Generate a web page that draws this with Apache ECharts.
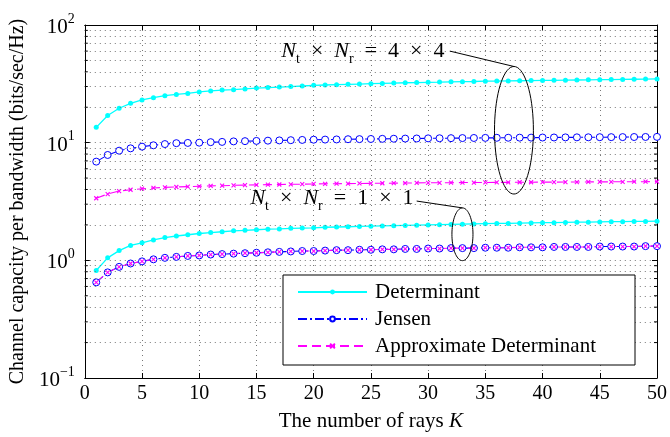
<!DOCTYPE html>
<html>
<head>
<meta charset="utf-8">
<script src="https://cdn.jsdelivr.net/npm/echarts@6/dist/echarts.min.js"></script>
<style>
html,body{margin:0;padding:0;background:#fff;}
#chart{width:670px;height:437px;}
</style>
</head>
<body>
<div id="chart"></div>
<script>
// ---- data ----
const rays = [1,2,3,4,5,6,7,8,9,10,11,12,13,14,15,16,17,18,19,20,21,22,23,24,25,26,27,28,29,30,31,32,33,34,35,36,37,38,39,40,41,42,43,44,45,46,47,48,49,50];
const det4 = [13.5,17.0,19.6,21.6,23.1,24.1,25.1,25.7,26.2,27.0,27.5,28.0,28.2,28.6,29.1,29.4,29.7,30.0,30.3,30.7,30.9,31.1,31.3,31.5,31.7,31.9,32.1,32.3,32.4,32.6,32.7,32.9,33.0,33.1,33.3,33.4,33.5,33.6,33.7,33.8,33.9,34.0,34.1,34.2,34.3,34.4,34.5,34.6,34.7,34.8];
const jen4 = [6.9,7.86,8.55,8.95,9.25,9.5,9.73,9.9,9.95,10.0,10.1,10.15,10.25,10.3,10.35,10.4,10.45,10.5,10.55,10.6,10.62,10.65,10.7,10.72,10.75,10.78,10.8,10.83,10.85,10.88,10.9,10.92,10.94,10.96,10.98,11.0,11.01,11.03,11.04,11.06,11.07,11.09,11.1,11.11,11.13,11.14,11.15,11.17,11.18,11.2];
const apx4 = [3.37,3.66,3.88,3.98,4.06,4.12,4.17,4.2,4.23,4.26,4.29,4.31,4.34,4.36,4.38,4.4,4.41,4.43,4.44,4.46,4.47,4.48,4.49,4.5,4.51,4.52,4.53,4.54,4.55,4.56,4.56,4.57,4.58,4.58,4.59,4.6,4.6,4.61,4.61,4.62,4.62,4.63,4.63,4.64,4.64,4.65,4.65,4.66,4.66,4.67];
const det1 = [0.82,1.05,1.21,1.34,1.41,1.49,1.56,1.61,1.65,1.69,1.72,1.75,1.78,1.8,1.82,1.84,1.85,1.87,1.88,1.89,1.91,1.92,1.93,1.94,1.95,1.96,1.97,1.98,1.99,2.0,2.01,2.02,2.03,2.04,2.05,2.06,2.06,2.07,2.08,2.09,2.09,2.1,2.11,2.11,2.12,2.13,2.13,2.14,2.14,2.15];
const jen1 = [0.65,0.79,0.88,0.94,0.98,1.02,1.05,1.07,1.09,1.1,1.12,1.13,1.14,1.15,1.16,1.17,1.18,1.19,1.2,1.2,1.21,1.22,1.22,1.23,1.23,1.24,1.24,1.25,1.25,1.26,1.26,1.27,1.27,1.27,1.28,1.28,1.28,1.29,1.29,1.29,1.3,1.3,1.3,1.3,1.31,1.31,1.31,1.31,1.32,1.32];
const apx1 = [0.65,0.79,0.88,0.94,0.98,1.02,1.05,1.07,1.09,1.1,1.12,1.13,1.14,1.15,1.16,1.17,1.18,1.19,1.2,1.2,1.21,1.22,1.22,1.23,1.23,1.24,1.24,1.25,1.25,1.26,1.26,1.27,1.27,1.27,1.28,1.28,1.28,1.29,1.29,1.29,1.3,1.3,1.3,1.3,1.31,1.31,1.31,1.31,1.32,1.32];
const seriesNames = ['Determinant', 'Jensen', 'Approximate Determinant'];
const minorGridValues = [0.2,0.3,0.4,0.5,0.6,0.7,0.8,0.9,2,3,4,5,6,7,8,9,20,30,40,50,60,70,80,90];
const xTitle = 'The number of rays ';
const yTitle = 'Channel capacity per bandwidth (bits/sec/Hz)';
const annotations = [
  {ratio: '4', k: 37.5, top: 44.4, bottom: 3.66, halfK: 1.7, textK: 24.3, textV: 58, lineK: 31.9, lineV: 60},
  {ratio: '1', k: 33.0, top: 2.79, bottom: 0.994, halfK: 0.92, textK: 21.6, textV: 3.22, lineK: 29.0, lineV: 3.19}
];

const FONT = '"Liberation Serif", "DejaVu Serif", serif';
const dotted = {color: '#777', width: 1, type: [1, 4]};

function pair(arr) { return rays.map((k, i) => [k, arr[i]]); }

const chart = echarts.init(document.getElementById('chart'), null, {renderer: 'canvas'});

function lineSeries(name, data, kind) {
  const base = {name: name, type: 'line', data: pair(data), xAxisIndex: 0, yAxisIndex: 0, silent: true, z: 3, showAllSymbol: true};
  if (kind === 0) {
    return Object.assign(base, {
      symbol: 'circle', symbolSize: 5,
      itemStyle: {color: '#00FFFF', borderColor: '#00FFFF', borderWidth: 0},
      lineStyle: {color: '#00FFFF', width: 1.3, type: 'solid'}
    });
  } else if (kind === 1) {
    return Object.assign(base, {
      symbol: 'circle', symbolSize: 7,
      itemStyle: {color: '#fff', borderColor: '#0000FF', borderWidth: 1},
      lineStyle: {color: '#0000FF', width: 1.1, type: [9, 3, 2, 3]}
    });
  } else {
    return Object.assign(base, {
      symbol: 'path://M0,0L10,10M10,0L0,10', symbolSize: 4,
      itemStyle: {color: 'none', borderColor: '#FF00FF', borderWidth: 1.1},
      lineStyle: {color: '#FF00FF', width: 1.1, type: [9, 5]}
    });
  }
}

const option = {
  animation: false,
  backgroundColor: '#fff',
  grid: {left: 81, right: 10, top: 25, bottom: 56, show: false},
  legend: {
    data: seriesNames,
    orient: 'vertical',
    left: 283, top: 275,
    padding: [6, 39, 8, 14],
    itemGap: 5,
    itemWidth: 69, itemHeight: 6,
    borderColor: '#000', borderWidth: 1,
    backgroundColor: '#fff',
    textStyle: {fontFamily: FONT, fontSize: 21, color: '#000', padding: [0, 0, 0, 3], lineHeight: 22},
    selectedMode: false,
    z: 10
  },
  xAxis: [{
    type: 'value', min: 0, max: 50, interval: 5,
    position: 'bottom',
    name: xTitle + '{k|K}',
    nameLocation: 'middle', nameGap: 33,
    nameTextStyle: {fontFamily: FONT, fontSize: 21, color: '#000', rich: {k: {fontFamily: FONT, fontSize: 21, fontStyle: 'italic', color: '#000'}}},
    axisLine: {show: true, onZero: false, lineStyle: {color: '#000', width: 1}},
    axisTick: {show: true, inside: true, length: 5, lineStyle: {color: '#000'}},
    axisLabel: {fontFamily: FONT, fontSize: 20, color: '#000', margin: 6},
    splitLine: {show: true, lineStyle: dotted}
  }, {
    type: 'value', min: 0, max: 50, interval: 5,
    position: 'top',
    axisLine: {show: true, onZero: false, lineStyle: {color: '#000', width: 1}},
    axisTick: {show: true, inside: true, length: 5, lineStyle: {color: '#000'}},
    axisLabel: {show: false},
    splitLine: {show: false}
  }],
  yAxis: [{
    type: 'log', logBase: 10, min: 0.1, max: 100,
    position: 'left',
    name: yTitle,
    nameLocation: 'middle', nameGap: 56, nameRotate: 90,
    nameTextStyle: {fontFamily: FONT, fontSize: 20, color: '#000'},
    axisLine: {show: true, onZero: false, lineStyle: {color: '#000', width: 1}},
    axisTick: {show: true, inside: true, length: 5, lineStyle: {color: '#000'}},
    axisLabel: {
      margin: 10,
      formatter: function (v) {
        const e = Math.round(Math.log10(v));
        return '{b|10}{s|' + (e < 0 ? '\u2212' + (-e) : e) + '}';
      },
      rich: {
        b: {fontFamily: FONT, fontSize: 21, color: '#000', lineHeight: 26, verticalAlign: 'bottom'},
        s: {fontFamily: FONT, fontSize: 14, color: '#000', lineHeight: 14, verticalAlign: 'top'}
      }
    },
    splitLine: {show: true, lineStyle: dotted}
  }, {
    type: 'log', logBase: 10, min: 0.1, max: 100,
    position: 'right',
    axisLine: {show: true, onZero: false, lineStyle: {color: '#000', width: 1}},
    axisTick: {show: true, inside: true, length: 5, lineStyle: {color: '#000'}},
    axisLabel: {show: false},
    splitLine: {show: false}
  }],
  series: [
    {
      name: 'grid-minor', type: 'line', data: [], silent: true, z: 1,
      markLine: {
        silent: true, symbol: 'none', animation: false,
        label: {show: false},
        lineStyle: dotted,
        data: minorGridValues.map(v => ({yAxis: v}))
      }
    },
    lineSeries(seriesNames[0], det4, 0),
    lineSeries(seriesNames[1], jen4, 1),
    lineSeries(seriesNames[2], apx4, 2),
    lineSeries(seriesNames[0], det1, 0),
    lineSeries(seriesNames[1], jen1, 1),
    lineSeries(seriesNames[2], apx1, 2),
    {
      name: 'annotations', type: 'custom', silent: true, z: 5, clip: false,
      data: [[25, 1]],
      renderItem: function (params, api) {
        const children = [];
        // minor ticks on left and right axes
        minorGridValues.forEach(function (v) {
          const pl = api.coord([0, v]);
          const pr = api.coord([50, v]);
          children.push({type: 'line', shape: {x1: pl[0], y1: pl[1], x2: pl[0] + 3, y2: pl[1]}, style: {stroke: '#000', lineWidth: 1}});
          children.push({type: 'line', shape: {x1: pr[0], y1: pr[1], x2: pr[0] - 3, y2: pr[1]}, style: {stroke: '#000', lineWidth: 1}});
        });
        annotations.forEach(function (a) {
          const pt = api.coord([a.k, a.top]);
          const pb = api.coord([a.k, a.bottom]);
          const cx = pt[0];
          const cy = (pt[1] + pb[1]) / 2;
          const ry = (pb[1] - pt[1]) / 2;
          const rx = api.coord([a.k + a.halfK, a.top])[0] - cx;
          const pts = [];
          for (let i = 0; i <= 72; i++) {
            const t = i / 72 * Math.PI * 2;
            pts.push([cx + rx * Math.cos(t), cy + ry * Math.sin(t)]);
          }
          children.push({type: 'polyline', shape: {points: pts}, style: {stroke: '#000', lineWidth: 1, fill: null}});
          const ls = api.coord([a.lineK, a.lineV]);
          children.push({type: 'line', shape: {x1: ls[0], y1: ls[1], x2: pt[0], y2: pt[1]}, style: {stroke: '#000', lineWidth: 1}});
          const tp = api.coord([a.textK, a.textV]);
          children.push({
            type: 'text',
            style: {
              x: tp[0], y: tp[1],
              text: '{i|N}{s|t}{m|  \u00D7  }{i|N}{s|r}{m|  =  ' + a.ratio + '  \u00D7  ' + a.ratio + '}',
              align: 'center', verticalAlign: 'middle',
              rich: {
                i: {fontFamily: FONT, fontSize: 22, fontStyle: 'italic', fill: '#000', lineHeight: 26, verticalAlign: 'top'},
                m: {fontFamily: FONT, fontSize: 22, fill: '#000', lineHeight: 26, verticalAlign: 'top'},
                s: {fontFamily: FONT, fontSize: 14, fill: '#000', lineHeight: 14, verticalAlign: 'bottom'}
              },
              fill: '#000'
            }
          });
        });
        return {type: 'group', children: children};
      }
    }
  ]
};

chart.setOption(option);
</script>
</body>
</html>
